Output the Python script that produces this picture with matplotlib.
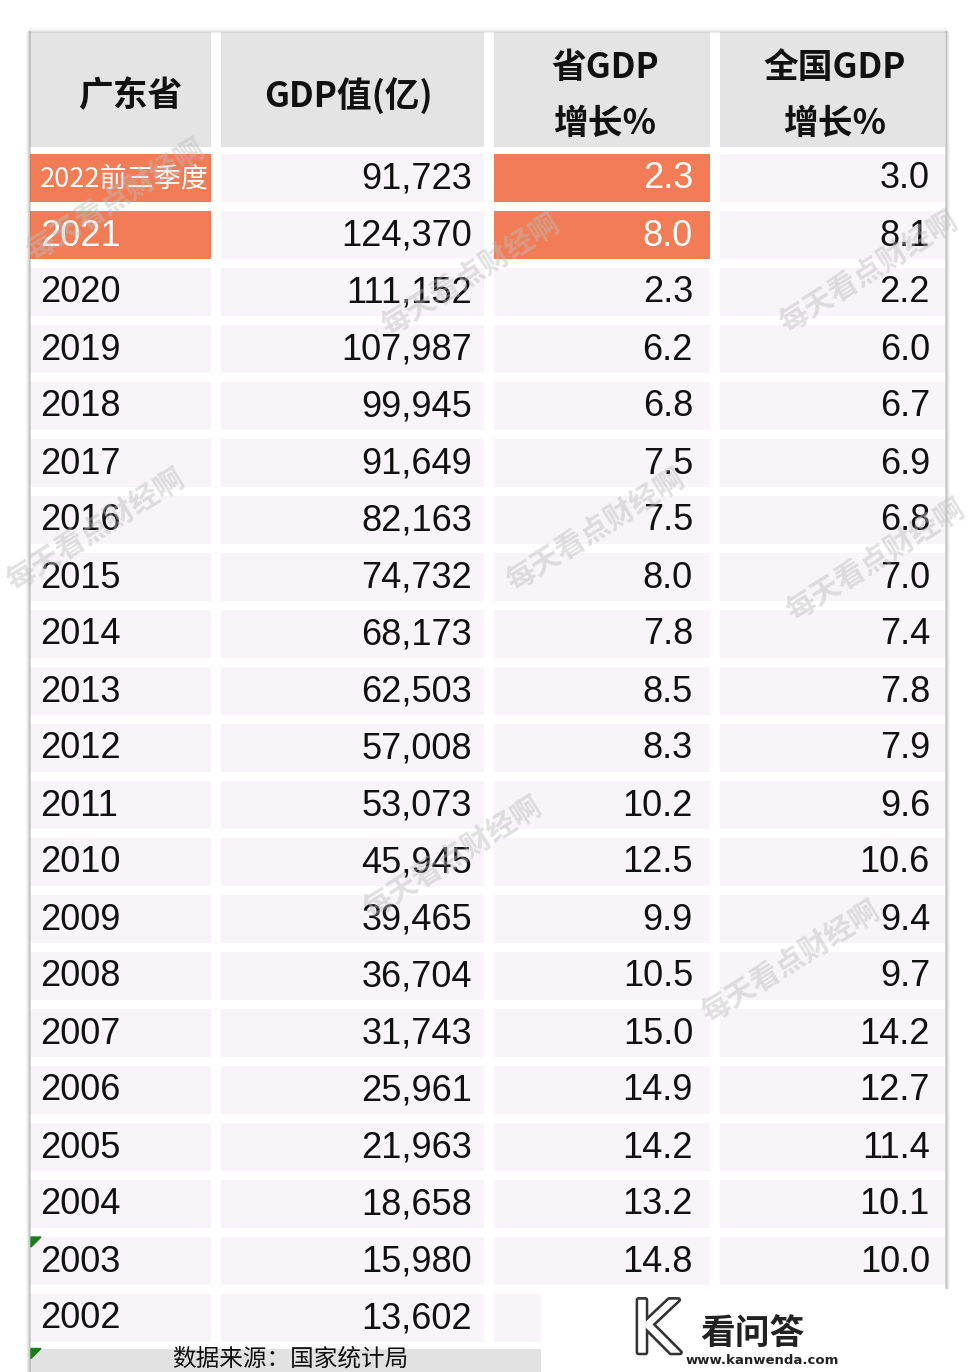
import matplotlib
matplotlib.use("Agg")
import matplotlib.pyplot as plt
import matplotlib.patheffects as pe
import numpy as np

plt.rcParams['font.family'] = ['Noto Sans CJK SC', 'DejaVu Sans']

# table data
years = ['2022前三季度', '2021', '2020', '2019', '2018', '2017', '2016', '2015', '2014',
         '2013', '2012', '2011', '2010', '2009', '2008', '2007', '2006', '2005',
         '2004', '2003', '2002']
gdp = [91723, 124370, 111152, 107987, 99945, 91649, 82163, 74732, 68173, 62503,
       57008, 53073, 45945, 39465, 36704, 31743, 25961, 21963, 18658, 15980, 13602]
prov_growth = [2.3, 8.0, 2.3, 6.2, 6.8, 7.5, 7.5, 8.0, 7.8, 8.5, 8.3, 10.2, 12.5,
               9.9, 10.5, 15.0, 14.9, 14.2, 13.2, 14.8, None]
nat_growth = [3.0, 8.1, 2.2, 6.0, 6.7, 6.9, 6.8, 7.0, 7.4, 7.8, 7.9, 9.6, 10.6,
              9.4, 9.7, 14.2, 12.7, 11.4, 10.1, 10.0, None]
headers = ['广东省', 'GDP值(亿)', '省GDP\n增长%', '全国GDP\n增长%']
highlight_rows = [0, 1]
source = '数据来源：国家统计局'
watermark = '每天看点财经啊'

# layout (pixels)
col_left = [30, 221, 494, 720]
col_right = [211, 484, 710, 945]
row0, pitch, cell_h = 178, 57, 48
head_top, head_bot = 32, 147
orange = '#f27c55'
cell_bg = '#f8f4fa'
head_bg = '#e4e4e4'
num_font = ['Liberation Sans', 'DejaVu Sans']

fig = plt.figure(figsize=(9.75, 13.72), dpi=100)
ax = fig.add_axes([0, 0, 1, 1])
ax.set_xlim(0, 975)
ax.set_ylim(1372, 0)
ax.axis('off')

n = len(years)
yc = row0 + pitch * np.arange(n)

# shadow on table edges
for k, a in enumerate([0.35, 0.22, 0.12, 0.06]):
    ax.plot([30 - k, 30 - k], [head_top, 1372], color='#777777', alpha=a, lw=1.2)
    ax.plot([946 + k, 946 + k], [head_top, 1290], color='#777777', alpha=a, lw=1.2)
    ax.plot([30, 946], [head_top - k, head_top - k], color='#999999', alpha=a * 0.6, lw=1.2)

# header cells
for j in range(4):
    ax.barh((head_top + head_bot) / 2, col_right[j] - col_left[j], left=col_left[j],
            height=head_bot - head_top, color=head_bg, zorder=1)
hx = [130, 348, 605, 835]
for j, h in enumerate(headers):
    ax.text(hx[j], (head_top + head_bot) / 2 + 6, h, ha='center', va='center',
            fontsize=25, fontweight='bold', color='#111111',
            linespacing=1.75, zorder=3)

# body cells
for j in range(4):
    colors = [cell_bg] * n
    if j in (0, 2):
        for r in highlight_rows:
            colors[r] = orange
    ax.barh(yc, col_right[j] - col_left[j], left=col_left[j], height=cell_h,
            color=colors, zorder=1)

for i in range(n):
    hl = i in highlight_rows
    ax.text(40, yc[i] + 1, years[i], ha='left', va='center',
            fontsize=19.5 if i == 0 else 26, color='white' if hl else '#111111',
            family=num_font if i > 0 else ['Noto Sans CJK SC'], zorder=3)
    ax.text(472, yc[i] + 1, f'{gdp[i]:,}', ha='right', va='center', fontsize=26,
            family=num_font, color='#111111', zorder=3)
    if prov_growth[i] is not None:
        ax.text(693, yc[i] + 1, f'{prov_growth[i]:.1f}', ha='right', va='center',
                fontsize=26, family=num_font, color='white' if hl else '#111111', zorder=3)
    if nat_growth[i] is not None:
        ax.text(930, yc[i] + 1, f'{nat_growth[i]:.1f}', ha='right', va='center',
                fontsize=26, family=num_font, color='#111111', zorder=3)

# footer bar
foot_top = yc[-1] + pitch / 2 + 2
ax.barh((foot_top + 1372) / 2, 548 - 30, left=30, height=1372 - foot_top,
        color='#e2e2e2', zorder=1)
ax.text(290, 1371, source, ha='center', va='bottom', fontsize=17,
        color='#111111', zorder=3)

# comment markers
t = yc[n - 2] - cell_h / 2
ax.fill([31, 41, 31], [t, t, t + 10], color='#1e7a1e', zorder=4)
ax.fill([31, 41, 31], [foot_top, foot_top, foot_top + 10], color='#1e7a1e', zorder=4)

# watermarks
wm_pos = [(115, 200), (470, 275), (868, 272), (95, 530), (595, 530), (875, 560),
          (452, 858), (790, 962)]
for x, y in wm_pos:
    ax.text(x, y, watermark, ha='center', va='center', fontsize=21, rotation=32,
            color='#bdbdbd', alpha=0.45, fontweight='bold', zorder=5)

# logo box
ax.barh(1331, 975 - 541, left=541, height=84, color='white', zorder=6)
ax.text(655, 1333, 'K', ha='center', va='center', fontsize=52, color='white',
        family=['DejaVu Sans'], zorder=7,
        path_effects=[pe.withStroke(linewidth=4, foreground='#333333'), pe.Normal()])
ax.text(752, 1333, '看问答', ha='center', va='center', fontsize=25,
        fontweight='bold', color='#222222', zorder=7)
ax.text(762, 1361, 'www.kanwenda.com', ha='center', va='center', fontsize=9.5,
        fontweight='bold', color='#222222', family=['DejaVu Sans'], zorder=7)

fig.savefig('out.png', dpi=100, facecolor='white')
